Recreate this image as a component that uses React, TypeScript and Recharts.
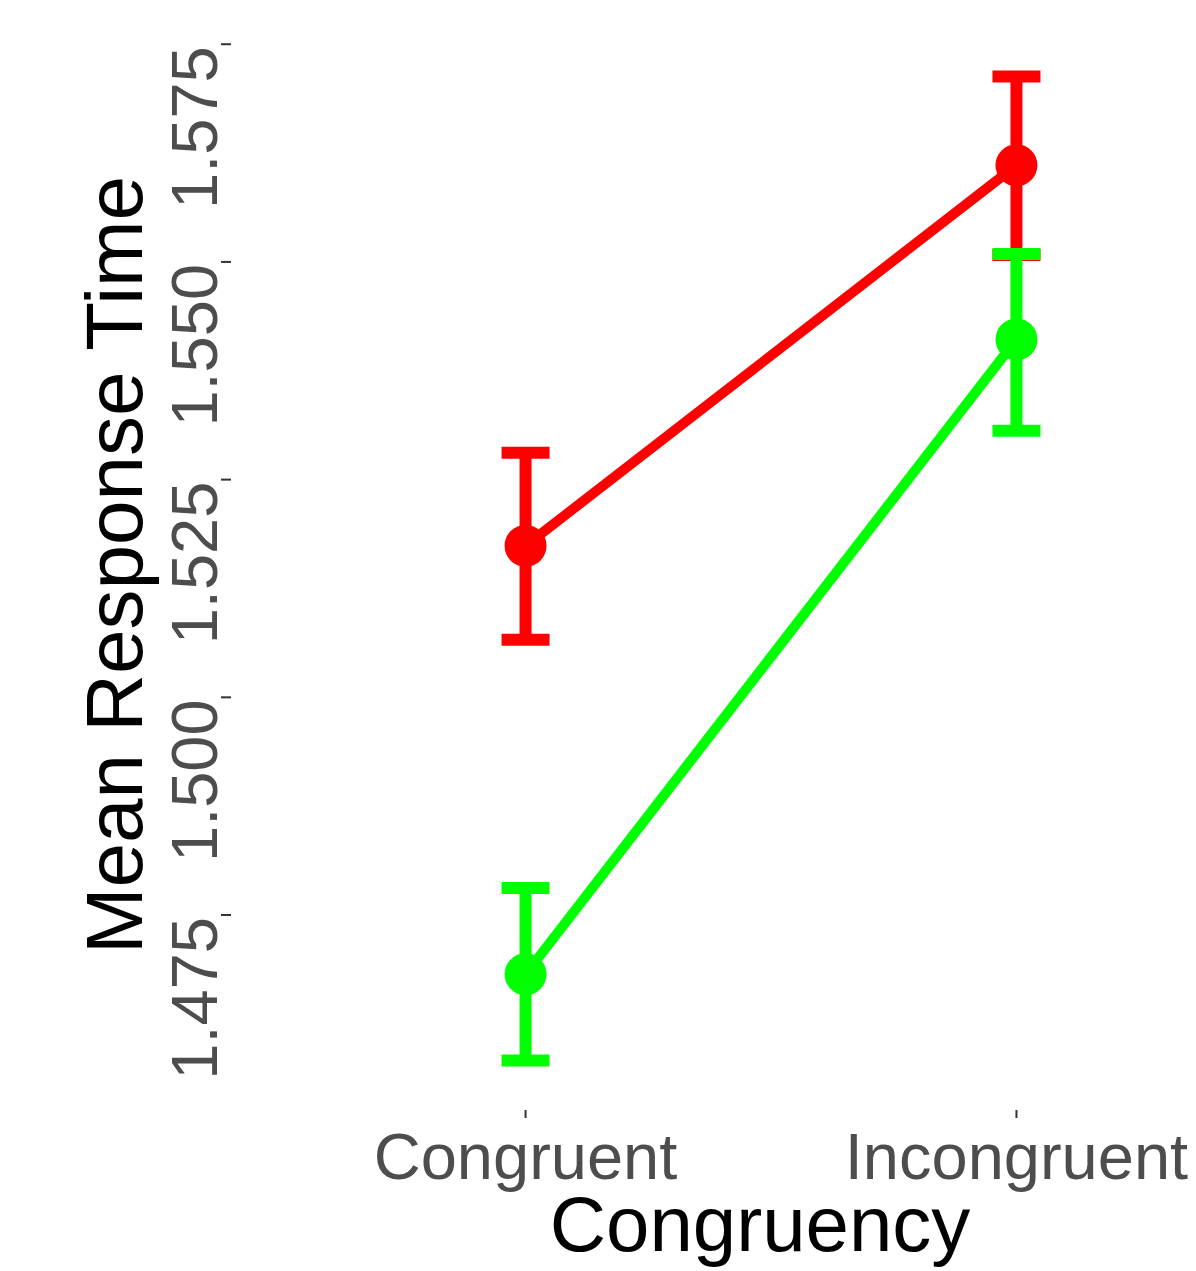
import React from 'react';
import { LineChart, Line, XAxis, YAxis, ErrorBar, Label } from 'recharts';

const categories = ['Congruent', 'Incongruent'];
const redMean = [1.5174, 1.5611];
const redUpper = [1.5281, 1.5713];
const redLower = [1.5066, 1.5508];
const greenMean = [1.4682, 1.5411];
const greenUpper = [1.4781, 1.5509];
const greenLower = [1.4583, 1.5306];
const yTicks = [1.475, 1.5, 1.525, 1.55, 1.575];

const data = categories.map((c, i) => ({
  x: i,
  name: c,
  red: redMean[i],
  redErr: [redMean[i] - redLower[i], redUpper[i] - redMean[i]],
  green: greenMean[i],
  greenErr: [greenMean[i] - greenLower[i], greenUpper[i] - greenMean[i]],
}));

const FONT = '"Liberation Sans", Arial, Helvetica, sans-serif';
const RED = '#FF0000';
const GREEN = '#00FF00';

const YTick = (props: any) => {
  const { x, y, payload } = props;
  const yy = y + 2;
  return (
    <text
      x={x}
      y={yy}
      transform={`rotate(-90, ${x}, ${yy})`}
      textAnchor="end"
      fontSize={65}
      fill="#4D4D4D"
      fontFamily={FONT}
    >
      {Number(payload.value).toFixed(3)}
    </text>
  );
};

const XTick = (props: any) => {
  const { x, y, payload } = props;
  return (
    <text x={x} y={y + 61} textAnchor="middle" fontSize={65} fill="#4D4D4D" fontFamily={FONT}>
      {categories[payload.value]}
    </text>
  );
};

export default function App() {
  return (
    <div
      style={{
        position: 'absolute',
        left: 0,
        top: 0,
        width: 1196,
        height: 1271,
        overflow: 'hidden',
        background: '#FFFFFF',
      }}
    >
      <LineChart
        width={1320}
        height={1271}
        data={data}
        margin={{ top: 27.5, right: 9, bottom: 0, left: 0 }}
      >
        <XAxis
          type="number"
          dataKey="x"
          domain={[-0.6, 1.6]}
          ticks={[0, 1]}
          allowDataOverflow
          height={161}
          axisLine={false}
          tickSize={8}
          tickMargin={0}
          tickLine={{ stroke: '#333333', strokeWidth: 2 }}
          tick={<XTick />}
          interval={0}
        >
          <Label
            content={() => (
              <text x={760} y={1251} textAnchor="middle" fontSize={78} fill="#000000" fontFamily={FONT}>
                Congruency
              </text>
            )}
          />
        </XAxis>
        <YAxis
          type="number"
          domain={[1.45261, 1.57692]}
          ticks={yTicks}
          allowDataOverflow
          width={231}
          axisLine={false}
          tickSize={10}
          tickMargin={4}
          tickLine={{ stroke: '#333333', strokeWidth: 2 }}
          tick={<YTick />}
          interval={0}
        >
          <Label
            content={() => (
              <text
                x={142}
                y={565}
                transform="rotate(-90, 142, 565)"
                textAnchor="middle"
                fontSize={80}
                fill="#000000"
                fontFamily={FONT}
              >
                Mean Response Time
              </text>
            )}
          />
        </YAxis>
        <Line
          type="linear"
          dataKey="red"
          stroke={RED}
          strokeWidth={10}
          dot={{ r: 21, fill: RED, stroke: RED, strokeWidth: 0 }}
          activeDot={false}
          isAnimationActive={false}
        >
          <ErrorBar dataKey="redErr" direction="y" width={24} strokeWidth={12} stroke={RED} isAnimationActive={false} />
        </Line>
        <Line
          type="linear"
          dataKey="green"
          stroke={GREEN}
          strokeWidth={10}
          dot={{ r: 21, fill: GREEN, stroke: GREEN, strokeWidth: 0 }}
          activeDot={false}
          isAnimationActive={false}
        >
          <ErrorBar dataKey="greenErr" direction="y" width={24} strokeWidth={12} stroke={GREEN} isAnimationActive={false} />
        </Line>
      </LineChart>
    </div>
  );
}
